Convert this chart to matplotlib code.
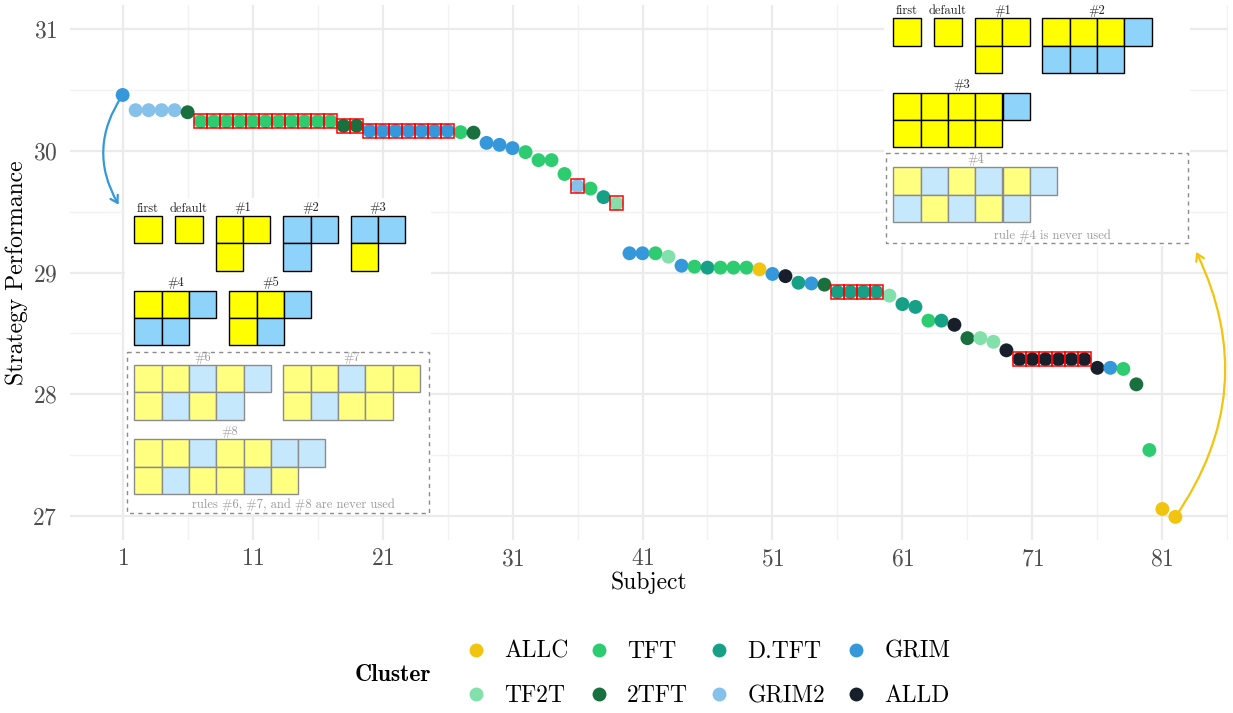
import numpy as np
import matplotlib
matplotlib.use('Agg')
import matplotlib.pyplot as plt
from matplotlib.patches import Rectangle, FancyArrowPatch
from matplotlib.lines import Line2D

plt.rcParams['font.family'] = ['cmr10', 'DejaVu Serif']
plt.rcParams['mathtext.fontset'] = 'cm'
plt.rcParams['axes.formatter.use_mathtext'] = True

# data
performance = [30.46,
               30.335, 30.335, 30.335, 30.335,
               30.318,
               30.244, 30.244, 30.244, 30.244, 30.244, 30.244, 30.244, 30.244, 30.244, 30.244, 30.244,
               30.207, 30.207,
               30.165, 30.165, 30.165, 30.165, 30.165, 30.165, 30.165,
               30.154, 30.150,
               30.066, 30.050, 30.023,
               29.990, 29.924, 29.924, 29.810, 29.710, 29.690, 29.620, 29.568,
               29.158, 29.158, 29.158, 29.130, 29.056, 29.048, 29.040, 29.040,
               29.040, 29.040, 29.026, 28.988, 28.970, 28.916, 28.910, 28.900,
               28.840, 28.840, 28.840, 28.840,
               28.810, 28.740, 28.717, 28.604, 28.604, 28.570, 28.460, 28.460,
               28.430, 28.360,
               28.287, 28.287, 28.287, 28.287, 28.287, 28.287,
               28.216, 28.216, 28.207, 28.080, 27.540, 27.055, 26.990]
cluster = ['GRIM',
           'GRIM2', 'GRIM2', 'GRIM2', 'GRIM2',
           '2TFT',
           'TFT', 'TFT', 'TFT', 'TFT', 'TFT', 'TFT', 'TFT', 'TFT', 'TFT', 'TFT', 'TFT',
           '2TFT', '2TFT',
           'GRIM', 'GRIM', 'GRIM', 'GRIM', 'GRIM', 'GRIM', 'GRIM',
           'TFT', '2TFT',
           'GRIM', 'GRIM', 'GRIM',
           'TFT', 'TFT', 'TFT', 'TFT', 'GRIM2', 'TFT', 'D.TFT', 'TF2T',
           'GRIM', 'GRIM', 'TFT', 'TF2T', 'GRIM', 'TFT', 'D.TFT', 'TFT',
           'TFT', 'TFT', 'ALLC', 'GRIM', 'ALLD', 'D.TFT', 'GRIM', '2TFT',
           'D.TFT', 'D.TFT', 'D.TFT', 'D.TFT',
           'TF2T', 'D.TFT', 'D.TFT', 'TFT', 'D.TFT', 'ALLD', '2TFT', 'TF2T',
           'TF2T', 'ALLD',
           'ALLD', 'ALLD', 'ALLD', 'ALLD', 'ALLD', 'ALLD',
           'ALLD', 'GRIM', 'TFT', '2TFT', 'TFT', 'ALLC', 'ALLC']
subjects = np.arange(1, len(performance) + 1)

# subjects marked with a red box
boxed = [7, 8, 9, 10, 11, 12, 13, 14, 15, 16, 17, 18, 19,
         20, 21, 22, 23, 24, 25, 26, 36, 39, 56, 57, 58, 59,
         70, 71, 72, 73, 74, 75]

cluster_names = ['ALLC', 'TFT', 'D.TFT', 'GRIM', 'TF2T', '2TFT', 'GRIM2', 'ALLD']
cluster_colors = {'ALLC': '#F1C40F', 'TFT': '#2ECC71', 'D.TFT': '#16A085',
                  'GRIM': '#3498DB', 'TF2T': '#82E0AA', '2TFT': '#196F3D',
                  'GRIM2': '#85C1E9', 'ALLD': '#17202A'}

x_ticks = [1, 11, 21, 31, 41, 51, 61, 71, 81]
y_ticks = [27, 28, 29, 30, 31]

# rule diagrams: Y = yellow cell, B = blue cell
left_rules = [('first', ['Y']), ('default', ['Y']), ('#1', ['YY', 'Y']),
              ('#2', ['BB', 'B']), ('#3', ['BB', 'Y']),
              ('#4', ['YYB', 'BB']), ('#5', ['YYB', 'YB'])]
left_unused = [('#6', ['YYBYB', 'YBYB']), ('#7', ['YYBYY', 'YBYY']),
               ('#8', ['YYBYYBB', 'YBYYBY'])]
right_rules = [('first', ['Y']), ('default', ['Y']), ('#1', ['YY', 'Y']),
               ('#2', ['YYYB', 'BBB']), ('#3', ['YYYYB', 'YYYY'])]
right_unused = [('#4', ['YBYBYB', 'BYBYB'])]

fig = plt.figure(figsize=(12.33, 7.13), dpi=100)
ax = fig.add_axes([70 / 1233, 1 - 540 / 713, 1158 / 1233, 535 / 713])
ax.set_zorder(1)

ax.set_xlim(-3.05, 86.05)
ax.set_ylim(26.8, 31.2)
ax.set_xticks(x_ticks)
ax.set_yticks(y_ticks)
ax.set_xticks(np.arange(6, 87, 10), minor=True)
ax.set_yticks(np.arange(27.5, 31, 1), minor=True)
ax.grid(which='major', color='#EBEBEB', lw=1.6)
ax.grid(which='minor', color='#F2F2F2', lw=1.0)
ax.set_axisbelow(True)
for s in ax.spines.values():
    s.set_visible(False)
ax.tick_params(which='both', length=0)
ax.tick_params(axis='x', pad=6, labelsize=17, labelcolor='#4D4D4D')
ax.tick_params(axis='y', pad=9, labelsize=17, labelcolor='#4D4D4D')
ax.set_xlabel('Subject', fontsize=17)
ax.set_ylabel('Strategy Performance', fontsize=17)
ax.xaxis.set_label_coords(0.5, -0.058)
ax.yaxis.set_label_coords(-0.036, 0.5)

# curved arrows
a1 = FancyArrowPatch((subjects[0], performance[0]), (0.69, 29.557),
                     connectionstyle='arc3,rad=0.31', arrowstyle='->,head_length=5,head_width=3',
                     color='#3498DB', lw=1.6, shrinkA=0, shrinkB=0, zorder=2)
ax.add_patch(a1)
a2 = FancyArrowPatch((subjects[-1], performance[-1]), (83.6, 29.17),
                     connectionstyle='arc3,rad=0.29', arrowstyle='->,head_length=5,head_width=3',
                     color='#F1C40F', lw=1.6, shrinkA=0, shrinkB=0, zorder=2)
ax.add_patch(a2)

cols = [cluster_colors[c] for c in cluster]
ax.scatter(subjects, performance, c=cols, s=100, linewidths=0, zorder=3)

for s in boxed:
    ax.add_patch(Rectangle((s - 0.5, performance[s - 1] - 0.058), 1.0, 0.116,
                           fill=False, ec='red', lw=1.1, zorder=4))

# legend
handles = {n: Line2D([], [], ls='', marker='o', ms=10, mec='none', mfc=cluster_colors[n])
           for n in cluster_names}
order = ['ALLC', 'TF2T', 'TFT', '2TFT', 'D.TFT', 'GRIM2', 'GRIM', 'ALLD']
fig.legend([handles[n] for n in order], order, loc='center', ncol=4,
           bbox_to_anchor=(707 / 1233, 1 - 674 / 713), frameon=False, fontsize=17,
           handlelength=1.0, handletextpad=0.7, columnspacing=0.8, labelspacing=0.95)
fig.text(355 / 1233, 1 - 675 / 713, 'Cluster', family=['cmb10', 'DejaVu Serif'],
         fontsize=17, ha='left', va='center')

# overlay for the rule diagrams, in pixel coordinates
ov = fig.add_axes([0, 0, 1, 1])
ov.set_zorder(5)
ov.set_xlim(0, 1233)
ov.set_ylim(713, 0)
ov.axis('off')

SQ = 27.3


def draw_rule(x0, y0, label, rows, faded=False):
    for r, row in enumerate(rows):
        for c, ch in enumerate(row):
            if faded:
                fc = '#FFFF80' if ch == 'Y' else '#C6E8FC'
                ec = '#8C8C8C'
            else:
                fc = '#FFFF00' if ch == 'Y' else '#8ED3FA'
                ec = 'black'
            ov.add_patch(Rectangle((x0 + c * SQ, y0 + r * SQ), SQ, SQ,
                                   fc=fc, ec=ec, lw=1.0))
    w = max(len(row) for row in rows) * SQ
    ov.text(x0 + w / 2, y0 - 1.5, label, ha='center', va='bottom', fontsize=9,
            color='#999999' if faded else '#222222')


# white backgrounds
ov.add_patch(Rectangle((125, 198), 306, 316, fc='white', ec='none'))
ov.add_patch(Rectangle((884, 0), 306, 246, fc='white', ec='none'))

left_pos = [(134.3, 216), (175.3, 216), (215.7, 216), (283.3, 216), (350.7, 216),
            (134.3, 290.7), (229.3, 290.7)]
for (lab, rows), (x0, y0) in zip(left_rules, left_pos):
    draw_rule(x0, y0, lab, rows)
left_unused_pos = [(134.3, 365), (283.3, 365), (134.3, 439.3)]
for (lab, rows), (x0, y0) in zip(left_unused, left_unused_pos):
    draw_rule(x0, y0, lab, rows, faded=True)
ov.add_patch(Rectangle((126.7, 351.7), 302.6, 161.6, fill=False, ec='#8C8C8C',
                       lw=1.0, ls=(0, (3, 3))))
ov.text(293, 505, 'rules #6, #7, and #8 are never used', ha='center', va='center',
        fontsize=9, color='#999999')

right_pos = [(893.3, 18.3), (934.3, 18.3), (975, 18.3), (1042.3, 18.3), (893.3, 92.7)]
for (lab, rows), (x0, y0) in zip(right_rules, right_pos):
    draw_rule(x0, y0, lab, rows)
for (lab, rows), (x0, y0) in zip(right_unused, [(893.3, 167.3)]):
    draw_rule(x0, y0, lab, rows, faded=True)
ov.add_patch(Rectangle((886, 153.3), 302.3, 89.4, fill=False, ec='#8C8C8C',
                       lw=1.0, ls=(0, (3, 3))))
ov.text(1052, 236, 'rule #4 is never used', ha='center', va='center',
        fontsize=9, color='#999999')

fig.savefig('out.png', dpi=100)
